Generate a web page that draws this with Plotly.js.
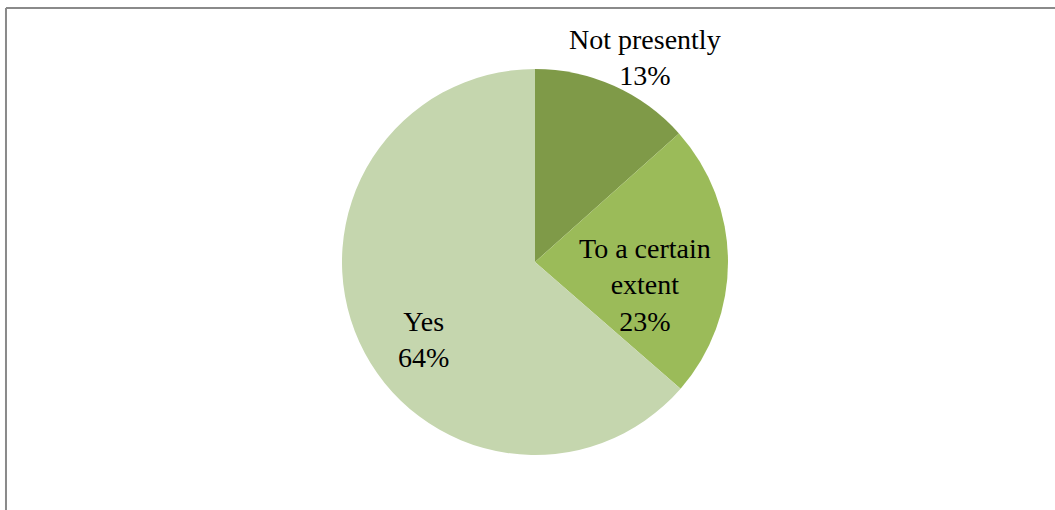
<!DOCTYPE html>
<html>
<head>
<meta charset="utf-8">
<script src="https://cdn.plot.ly/plotly-3.0.1.min.js"></script>
<style>
  html, body { margin: 0; padding: 0; background: #ffffff; }
  #chart { width: 1055px; height: 510px; }
</style>
</head>
<body>
<div id="chart"></div>
<script>
const categories = ["Not presently", "To a certain extent", "Yes"];
const values = [13.4, 23.0, 63.6];
const labelLines = ["Not presently", "To a certain<br>extent", "Yes"];
const colors = ["#7f9a48", "#9bbb59", "#c5d6ae"];

const total = values.reduce((a, b) => a + b, 0);
const pctText = values.map(v => Math.round(v / total * 100) + "%");

const labelFont = { family: "Liberation Serif, Times New Roman, serif", size: 28, color: "#000000" };

const trace = {
  type: "pie",
  labels: categories,
  values: values,
  sort: false,
  direction: "clockwise",
  rotation: 0,
  textinfo: "none",
  hoverinfo: "label+percent",
  marker: { colors: colors, line: { width: 0 } },
  showlegend: false
};

const labelPos = [
  { x: 0.785, y: 1.031 },
  { x: 0.785, y: 0.440 },
  { x: 0.212, y: 0.298 }
];

const annotations = categories.map((c, i) => ({
  xref: "paper", yref: "paper",
  x: labelPos[i].x, y: labelPos[i].y,
  xanchor: "center", yanchor: "middle",
  text: labelLines[i] + "<br>" + pctText[i],
  showarrow: false,
  align: "center",
  font: labelFont
}));

const layout = {
  width: 1055,
  height: 510,
  margin: { l: 342, r: 327, t: 69, b: 55 },
  paper_bgcolor: "#ffffff",
  plot_bgcolor: "#ffffff",
  showlegend: false,
  annotations: annotations,
  shapes: [
    { type: "line", xref: "paper", yref: "paper", x0: -0.8705, x1: 2.0, y0: 1.158, y1: 1.158,
      line: { color: "#8a8a8a", width: 2 } },
    { type: "line", xref: "paper", yref: "paper", x0: -0.8705, x1: -0.8705, y0: 1.158, y1: -0.3,
      line: { color: "#8a8a8a", width: 2 } }
  ]
};

Plotly.newPlot("chart", [trace], layout, { displayModeBar: false, staticPlot: true });
</script>
</body>
</html>
